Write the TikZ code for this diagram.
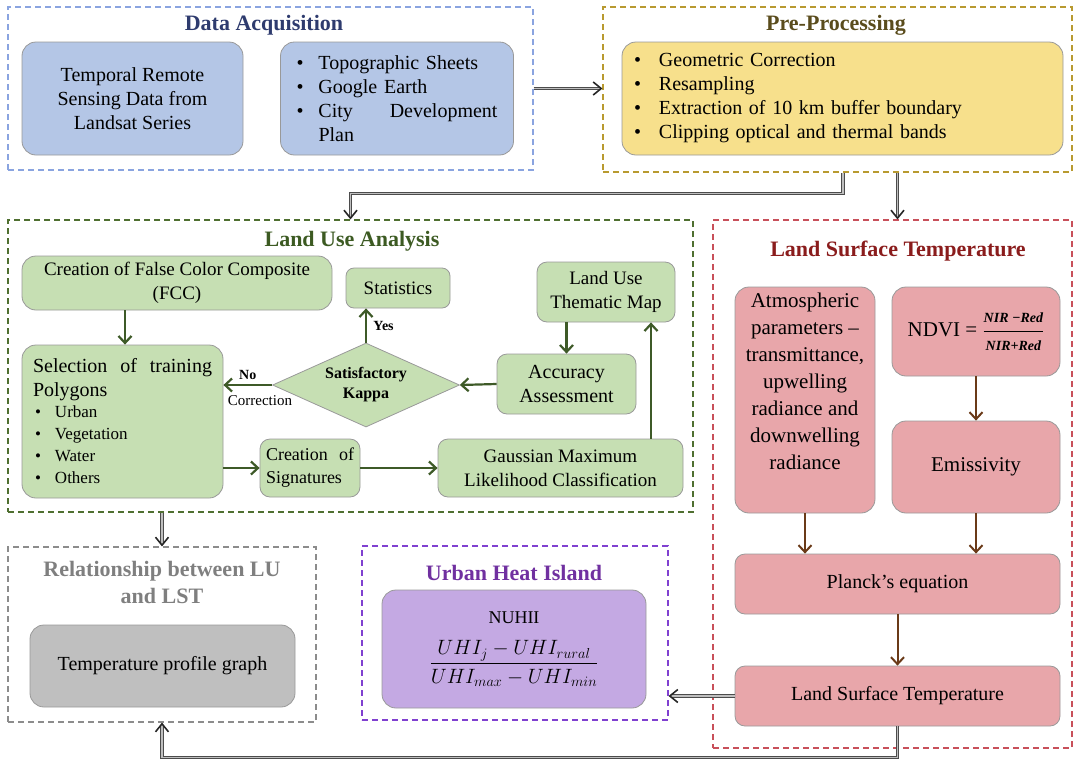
\documentclass[tikz,border=0pt]{standalone}
\usepackage{amsmath}
\usepackage{fontspec}
\setmainfont{Liberation Serif}
\usetikzlibrary{arrows.meta, shapes.geometric, calc}
\definecolor{daline}{HTML}{8AA4E0}
\definecolor{datitle}{HTML}{2E3B6E}
\definecolor{dafill}{HTML}{B4C6E6}
\definecolor{ppline}{HTML}{B89A30}
\definecolor{pptitle}{HTML}{5A4C1C}
\definecolor{ppfill}{HTML}{F7E08C}
\definecolor{luline}{HTML}{4F6F30}
\definecolor{lutitle}{HTML}{3C5A22}
\definecolor{lufill}{HTML}{C6DFB3}
\definecolor{luarrow}{HTML}{3E5A28}
\definecolor{lsline}{HTML}{C8505A}
\definecolor{lstitle}{HTML}{8A1C1C}
\definecolor{lsfill}{HTML}{E8A6AA}
\definecolor{lsarrow}{HTML}{6A3A18}
\definecolor{reline}{HTML}{8C8C8C}
\definecolor{retitle}{HTML}{7F7F7F}
\definecolor{refill}{HTML}{BFBFBF}
\definecolor{uhline}{HTML}{8040D0}
\definecolor{uhtitle}{HTML}{7030A0}
\definecolor{uhfill}{HTML}{C4A9E3}
\newcommand{\bul}[1][22pt]{\makebox[#1][l]{\textbullet}}
\tikzset{
  grp/.style={line width=1.1pt, dash pattern=on 6pt off 4pt, inner sep=0pt},
  ttl/.style={font=\fontsize{22}{27}\selectfont\bfseries, align=center},
  box/.style={rounded corners=14pt, draw=black!40, line width=0.8pt, inner sep=5pt,
              align=center, font=\fontsize{20}{24}\selectfont},
  conn/.style={draw=black!25, line width=1.3pt,
               -{Straight Barb[length=8pt, width=13pt, line width=1.6pt, color=black!85]},
               preaction={draw=black!70, line width=3.6pt, -, shorten >=3pt}},
  garr/.style={draw=luarrow, line width=2.2pt, -{Straight Barb[length=7pt, width=13pt]}},
  rarr/.style={draw=lsarrow, line width=2pt, -{Straight Barb[length=7pt, width=13pt]}},
}
\begin{document}
\begin{tikzpicture}[x=1pt, y=-1pt]
\useasboundingbox (0,0) rectangle (1078,761);

% data acquisition
\node[grp, draw=daline, minimum width=525pt, minimum height=163pt] (da) at (270.5,88.5) {};
\node[ttl, text=datitle] (datitle) at (264,25) {Data Acquisition};
\node[box, fill=dafill, minimum width=221pt, minimum height=113pt] (rs) at (132.5,98.5)
  {Temporal Remote\\Sensing Data from\\Landsat Series};
\node[box, fill=dafill, minimum width=233pt, minimum height=113pt, inner xsep=16pt,
      text width=201pt, align=left] (anc) at (397,98.5)
  {\bul Topographic Sheets\\
   \bul Google Earth\\
   \bul City\hfill Development\\
   \hspace*{22pt}Plan};

% pre-processing
\node[grp, draw=ppline, minimum width=469pt, minimum height=165pt] (pp) at (837.5,89.5) {};
\node[ttl, text=pptitle] (pptitle) at (836,25) {Pre-Processing};
\node[box, fill=ppfill, minimum width=441pt, minimum height=113pt, inner xsep=12pt,
      text width=417pt, align=left] (ppl) at (842.5,98.5)
  {\bul[25pt]Geometric Correction\\
   \bul[25pt]Resampling\\
   \bul[25pt]Extraction of 10 km buffer boundary\\
   \bul[25pt]Clipping optical and thermal bands};

% land use analysis
\node[grp, draw=luline, minimum width=685pt, minimum height=292pt] (lu) at (350.5,366) {};
\node[ttl, text=lutitle] (lutitle) at (352,241) {Land Use Analysis};
\node[box, fill=lufill, minimum width=310pt, minimum height=54pt, inner ysep=2pt,
      font=\fontsize{19}{24}\selectfont] (fcc) at (177,283)
  {Creation of False Color Composite\\(FCC)};
\node[box, fill=lufill, rounded corners=8pt, minimum width=104pt, minimum height=40pt,
      font=\fontsize{19}{24}\selectfont] (stat) at (398,288) {Statistics};
\node[box, fill=lufill, rounded corners=10pt, minimum width=138pt, minimum height=60pt,
      font=\fontsize{19}{24}\selectfont] (thm) at (606,292) {Land Use\\Thematic Map};
\node[box, fill=lufill, minimum width=201pt, minimum height=153pt, inner xsep=11pt,
      text width=179pt, align=left] (sel) at (122.5,421.5)
  {Selection\hfill of\hfill training\\Polygons\\[-1pt]
   {\fontsize{17}{22}\selectfont
   \hspace*{2pt}\bul[20pt]Urban\\
   \hspace*{2pt}\bul[20pt]Vegetation\\
   \hspace*{2pt}\bul[20pt]Water\\
   \hspace*{2pt}\bul[20pt]Others\par}};
\node[diamond, aspect=2.2, draw=black!40, line width=0.8pt, fill=lufill, inner sep=0pt,
      minimum width=187pt, minimum height=84pt, align=center,
      font=\fontsize{16}{20}\selectfont\bfseries] (kappa) at (366,385)
  {Satisfactory\\Kappa};
\node[box, fill=lufill, rounded corners=10pt, minimum width=139pt, minimum height=60pt]
  (acc) at (566.5,384) {Accuracy\\Assessment};
\node[box, fill=lufill, rounded corners=10pt, minimum width=100pt, minimum height=58pt,
      inner xsep=6pt, text width=88pt, align=left, font=\fontsize{18}{23}\selectfont]
  (sig) at (310,468) {Creation\hfill of\\Signatures};
\node[box, fill=lufill, rounded corners=10pt, minimum width=245pt, minimum height=58pt,
      font=\fontsize{19}{24}\selectfont] (gml) at (560.5,468)
  {Gaussian Maximum\\Likelihood Classification};

\draw[garr] ([xshift=-52pt]fcc.south) -- ([xshift=-52pt]fcc.south |- sel.north);
\draw[garr] (kappa.north) -- (kappa.north |- stat.south)
  node[midway, right, xshift=3pt, font=\fontsize{14}{16}\selectfont\bfseries] {Yes};
\draw[garr] (kappa.west) -- (kappa.west -| sel.east)
  node[midway, above, yshift=1pt, font=\fontsize{14}{16}\selectfont\bfseries] {No};
\node[font=\fontsize{15}{18}\selectfont] (corr) at (260,401) {Correction};
\draw[garr] (acc.west) -- (kappa.east);
\draw[garr] (thm.south -| acc.north) -- (acc.north);
\draw[garr] ([xshift=90.5pt]gml.north) -- ([xshift=90.5pt]gml.north |- thm.south);
\draw[garr] (sig.west -| sel.east) -- (sig.west);
\draw[garr] (sig) -- (gml);

% land surface temperature
\node[grp, draw=lsline, minimum width=359pt, minimum height=528pt] (lst) at (892.5,484) {};
\node[ttl, text=lstitle] (lsttitle) at (898,251) {Land Surface Temperature};
\node[box, fill=lsfill, minimum width=140pt, minimum height=226pt,
      font=\fontsize{21}{27}\selectfont] (atm) at (805,400)
  {Atmospheric\\parameters --\\transmittance,\\upwelling\\radiance and\\downwelling\\radiance\\[10pt]};
\node[box, fill=lsfill, minimum width=168pt, minimum height=89pt,
      font=\fontsize{21}{25}\selectfont] (ndvi) at (976,331.5)
  {NDVI = $\dfrac{\text{\fontsize{14}{16}\selectfont\bfseries\itshape NIR −Red}}%
                 {\text{\fontsize{14}{16}\selectfont\bfseries\itshape NIR+Red}}$};
\node[box, fill=lsfill, minimum width=168pt, minimum height=92pt,
      font=\fontsize{21}{25}\selectfont] (emi) at (976,467) {Emissivity};
\node[box, fill=lsfill, rounded corners=10pt, minimum width=325pt, minimum height=60pt]
  (planck) at (897.5,584) {Planck’s equation};
\node[box, fill=lsfill, rounded corners=10pt, minimum width=325pt, minimum height=60pt]
  (lstb) at (897.5,696) {Land Surface Temperature};

\draw[rarr] (atm.south) -- (atm.south |- planck.north);
\draw[rarr] (emi.south) -- (emi.south |- planck.north);
\draw[rarr] (ndvi) -- (emi);
\draw[rarr] (planck) -- (lstb);

% relationship between LU and LST
\node[grp, draw=reline, minimum width=308pt, minimum height=175pt] (rel) at (162,634.5) {};
\node[ttl, text=retitle] (reltitle) at (162,582) {Relationship between LU\\and LST};
\node[box, fill=refill, minimum width=265pt, minimum height=82pt]
  (tpg) at (162.5,666) {Temperature profile graph};

% urban heat island
\node[grp, draw=uhline, minimum width=306pt, minimum height=174pt] (uhi) at (515,633) {};
\node[ttl, text=uhtitle] (uhititle) at (514,573) {Urban Heat Island};
\node[box, fill=uhfill, minimum width=264pt, minimum height=118pt,
      font=\fontsize{22}{26}\selectfont] (nuhii) at (514,649)
  {{\fontsize{18}{22}\selectfont NUHII}\\[16pt]
   $\dfrac{UHI_j - UHI_{rural}}{UHI_{max} - UHI_{min}}$};

% connectors between stages
\draw[conn] (da.east) -- (da.east -| pp.west);
\draw[conn] ([xshift=5.5pt]pp.south) -- ++(0,21) -| (lu.north);
\draw[conn] ([xshift=60pt]pp.south) -- ([xshift=60pt]pp.south |- lst.north);
\draw[conn] (lu.south -| rel.north) -- (rel.north);
\draw[conn] (lstb.west) -- (lstb.west -| uhi.east);
\draw[conn] (lstb.south) -- ++(0,31) -| (rel.south);
\end{tikzpicture}
\end{document}
